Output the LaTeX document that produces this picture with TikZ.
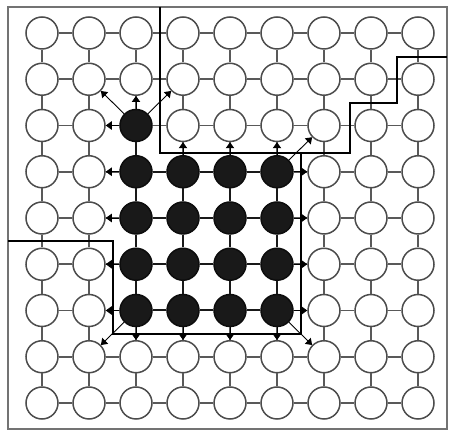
\documentclass[tikz,border=0pt]{standalone}
\usetikzlibrary{arrows.meta}
\begin{document}
\begin{tikzpicture}[x=0.5pt,y=-0.5pt,
  wnode/.style={circle,draw=black!70,fill=white,line width=0.75pt,minimum size=16pt,inner sep=0pt},
  bnode/.style={circle,draw=black!95,fill=black!90,line width=0.75pt,minimum size=16pt,inner sep=0pt},
  link/.style={draw=black!65,line width=0.8pt},
  blink/.style={draw=black!90,line width=1pt},
  wall/.style={draw=black,line width=1.3pt},
  framebox/.style={draw=black!55,line width=0.8pt},
  push/.style={draw=black,line width=0.45pt,-{Triangle[length=3pt,width=4.2pt]}}]
\useasboundingbox (0,0) rectangle (450,432);
\draw[framebox] (8,7) rectangle (447,429);
% nodes
\foreach \r in {0,...,8}{
  \foreach \c in {0,...,8}{
    \pgfmathtruncatemacro\isb{((\r>=3)&&(\r<=6)&&(\c>=2)&&(\c<=5))||((\r==2)&&(\c==2))}
    \ifnum\isb=1
      \node[bnode] (n-\r-\c) at ({42+47*\c},{33+46.25*\r}) {};
    \else
      \node[wnode] (n-\r-\c) at ({42+47*\c},{33+46.25*\r}) {};
    \fi
  }
}
% grid links
\foreach \r in {0,...,8}{
  \foreach \c [evaluate=\c as \cc using int(\c+1)] in {0,...,7}{
    \draw[link] (n-\r-\c) -- (n-\r-\cc);
    \draw[link] (n-\c-\r) -- (n-\cc-\r);
  }
}
% links inside black block
\foreach \r in {3,...,6}{
  \foreach \c [evaluate=\c as \cc using int(\c+1)] in {2,3,4}{
    \draw[blink] (n-\r-\c) -- (n-\r-\cc);
  }
}
\foreach \c in {2,...,5}{
  \foreach \r [evaluate=\r as \rr using int(\r+1)] in {3,4,5}{
    \draw[blink] (n-\r-\c) -- (n-\rr-\c);
  }
}
\draw[blink] (n-2-2) -- (n-3-2);
% walls
\draw[wall] (160,7) -- (160,153) -- (350,153) -- (350,103) -- (397,103) -- (397,57) -- (447,57);
\draw[wall] (301,153) -- (301,334) -- (113,334) -- (113,241) -- (8,241);
% push arrows
\draw[push] (n-2-2) -- (n-1-2);
\draw[push] (n-2-2) -- (n-2-1);
\draw[push] (n-2-2) -- (n-1-1);
\draw[push] (n-2-2) -- (n-1-3);
\foreach \c in {3,4,5}{ \draw[push] (n-3-\c) -- (n-2-\c); }
\draw[push] (n-3-5) -- (n-2-6);
\foreach \r in {3,...,6}{
  \draw[push] (n-\r-2) -- (n-\r-1);
  \draw[push] (n-\r-5) -- (n-\r-6);
}
\foreach \c in {2,...,5}{ \draw[push] (n-6-\c) -- (n-7-\c); }
\draw[push] (n-6-2) -- (n-7-1);
\draw[push] (n-6-5) -- (n-7-6);
\end{tikzpicture}
\end{document}
